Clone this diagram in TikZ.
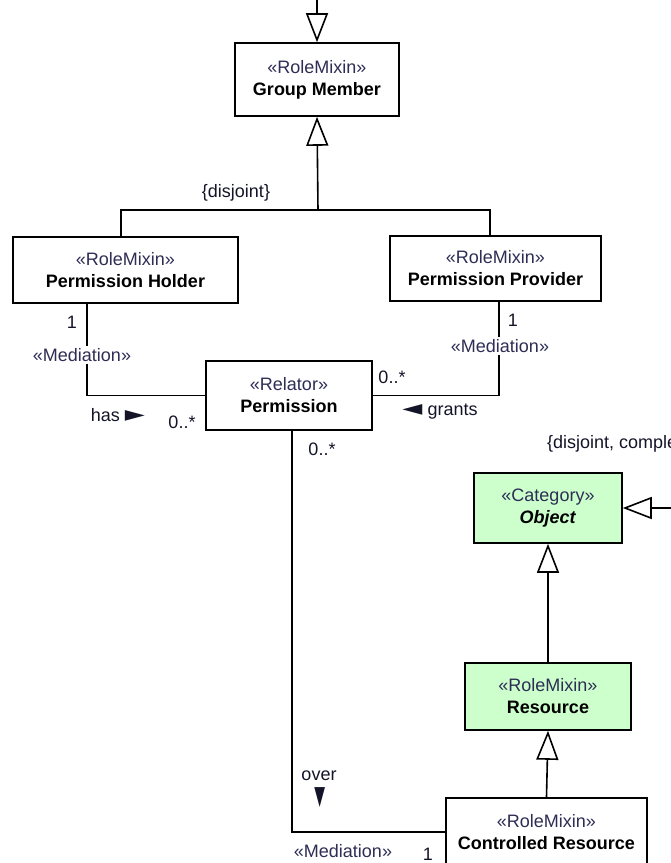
\documentclass[tikz,border=0pt]{standalone}
\usepackage{fontspec}
\setmainfont{Liberation Sans}
\newfontfamily\symfont{DejaVu Sans}
\usetikzlibrary{arrows.meta, positioning}
\definecolor{stereoblue}{RGB}{45,45,85}
\definecolor{labelink}{RGB}{20,20,40}
\definecolor{catgreen}{RGB}{204,255,204}
\newcommand{\umlstereo}[1]{{\color{stereoblue}«#1»}}
\newcommand{\navtip}{\scalebox{1.45}[1.2]{\symfont ►}}
\newcommand{\navleft}{\scalebox{1.45}[1.2]{\symfont ◄}}

\begin{document}
\begin{tikzpicture}[
    x=1pt, y=-1pt,
    font=\fontsize{18}{22}\selectfont,
    umlclass/.style={rectangle, draw=black, fill=white, line width=1.6pt, align=center, inner sep=0pt, text=black},
    gen/.style={-{Triangle[open, length=29pt, width=22pt, line width=1.6pt]}, line width=1.6pt},
    assoc/.style={line width=1.6pt},
    lbl/.style={text=labelink, inner sep=1pt},
    medlbl/.style={lbl, fill=white, text=stereoblue, inner sep=2pt}
]
    \useasboundingbox (0,0) rectangle (671,863);
    \clip (0,0) rectangle (671,863);

    % Group Member and its roles
    \node[umlclass, minimum width=164pt, minimum height=73pt] (member) at (317,79.5) {\umlstereo{RoleMixin}\\ \textbf{Group Member}};
    \node[umlclass, minimum width=225pt, minimum height=66pt] (holder) at (125.5,270) {\umlstereo{RoleMixin}\\ \textbf{Permission Holder}};
    \node[umlclass, minimum width=211pt, minimum height=65pt] (provider) at (495.5,268.5) {\umlstereo{RoleMixin}\\ \textbf{Permission Provider}};
    \node[umlclass, minimum width=166pt, minimum height=69pt] (permission) at (289,395.5) {\umlstereo{Relator}\\ \textbf{Permission}};

    \coordinate (membertop) at (317,0);
    \coordinate (split) at (318,210);
    \draw[gen] (membertop) -- (member.north);
    \draw[gen] (split) -- (member.south);
    \draw[assoc] ([xshift=-4.5pt]holder.north) |- (split) -| ([xshift=-5.5pt]provider.north);
    \node[lbl] (disjoint) at (236,193) {\{disjoint\}};

    % Mediations of Permission
    \draw[assoc] ([xshift=75pt]holder.south west) |- (permission.west);
    \draw[assoc] ([xshift=3.5pt]provider.south) |- (permission.east);
    \node[lbl] (holderone) at (72,322) {1};
    \node[medlbl] (holdermed) at (82,355) {«Mediation»};
    \node[lbl] (has) at (118,415) {has \navtip};
    \node[lbl] (holdermany) at (182,422) {0..*};
    \node[lbl] (providerone) at (513,320) {1};
    \node[medlbl] (providermed) at (500,346) {«Mediation»};
    \node[lbl] (providermany) at (392,377) {0..*};
    \node[lbl] (grants) at (440,412) {\navleft\ grants};

    % Object, Resource, Controlled Resource
    \node[umlclass, fill=catgreen, minimum width=148pt, minimum height=70pt] (object) at (548,508) {\umlstereo{Category}\\ \textbf{\textit{Object}}};
    \node[umlclass, fill=catgreen, minimum width=166pt, minimum height=67pt] (resource) at (548,696.5) {\umlstereo{RoleMixin}\\ \textbf{Resource}};
    \node[umlclass, minimum width=201pt, minimum height=68pt] (controlled) at (546.5,832) {\umlstereo{RoleMixin}\\ \textbf{Controlled Resource}};

    \coordinate (objectin) at (675,508);
    \draw[gen] (objectin) -- (object.east);
    \draw[gen] (resource.north) -- (object.south);
    \draw[gen] (controlled.north) -- (resource.south);
    \node[lbl, anchor=west] (objectset) at (546,444) {\{disjoint, complete\}};

    % over
    \draw[assoc] ([xshift=87pt]permission.south west) |- (controlled.west);
    \node[lbl] (permmany) at (322,449) {0..*};
    \node[lbl] (over) at (319,776) {over};
    \node[lbl] (overarrow) at (320,798) {\rotatebox{-90}{\navtip}};
    \node[lbl, text=stereoblue] (ctrlmed) at (343,851) {«Mediation»};
    \node[lbl] (ctrlone) at (428,854) {1};
\end{tikzpicture}
\end{document}
